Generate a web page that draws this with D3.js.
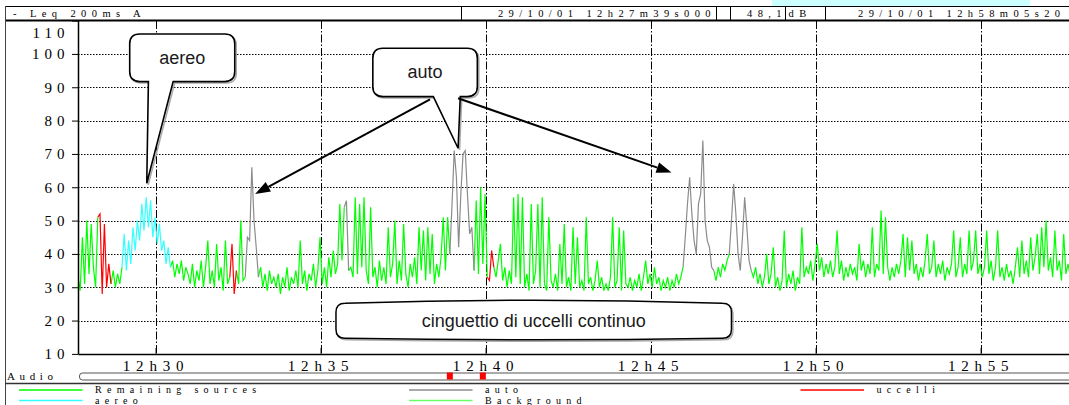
<!DOCTYPE html>
<html><head><meta charset="utf-8">
<script src="https://cdn.jsdelivr.net/npm/d3@7"></script>
<style>
body{margin:0;background:#fff;}
svg{display:block;}
</style></head><body>
<svg id="chart" width="1069" height="405"></svg>
<script>
// ---------- data ----------
const startTime = "12:27:39";
const endTime = "12:58:05";
const stepSeconds = 4;
const leq = [
 33,29,45,31,50,34,49,36,30,51,
 52,28,49,30,37,31,35,30,34,31,
 36,46,35,44,37,48,41,50,44,55,
 47,57,48,56,45,51,43,49,41,44,
 37,42,36,38,33,37,34,38,32,36,
 34,31,37,30,35,32,38,30,36,44,
 31,35,30,43,32,36,29,44,31,33,
 43,28,35,31,50,32,33,45,44,66,
 50,42,33,36,30,34,29,35,31,33,
 30,34,28,33,30,36,29,33,31,35,
 30,44,31,35,29,34,32,37,30,35,
 45,31,36,30,39,33,41,34,37,55,
 38,54,56,35,36,33,57,34,55,36,
 57,35,31,54,33,36,30,38,32,36,
 31,48,33,37,50,31,38,32,49,34,
 30,37,33,39,31,48,35,47,32,48,
 34,46,31,37,33,39,51,35,51,40,
 55,71,63,42,58,70,71,58,46,48,
 35,56,34,60,37,58,33,32,41,36,
 33,38,43,32,36,30,35,31,57,33,
 58,31,57,30,34,29,55,31,35,55,
 30,57,31,29,51,32,30,34,29,43,
 31,49,30,33,29,48,31,45,30,32,
 29,51,31,33,29,32,38,30,33,29,
 31,29,33,51,30,32,48,29,47,31,
 30,33,29,32,30,34,29,33,38,31,
 34,30,36,31,33,29,32,30,33,29,
 32,30,34,31,33,36,45,55,63,52,
 44,40,55,58,74,50,44,42,36,35,
 32,36,33,37,35,38,40,50,61,52,
 40,35,45,57,48,38,35,33,36,31,
 34,30,33,40,31,34,42,30,33,29,
 32,47,30,34,31,35,29,33,31,48,
 33,36,34,38,32,37,43,35,39,33,
 37,34,38,33,36,47,34,38,32,36,
 33,37,34,36,32,43,35,38,33,37,
 34,48,33,37,35,53,34,51,36,32,
 36,33,37,34,38,46,33,45,35,44,
 34,37,32,36,33,38,46,34,36,44,
 33,37,34,38,32,36,34,37,47,33,
 36,45,33,37,34,47,35,38,47,34,
 37,33,36,47,34,38,32,36,47,33,
 36,32,37,33,35,31,36,42,33,44,
 34,38,33,45,35,39,46,34,48,36,
 50,35,39,33,47,35,38,32,46,34,
 37,33,36,34,38,33,36
];
const aereoSpans = [["12:28:59","12:30:27"]];
const autoSpans = [["12:32:43","12:33:07"],["12:35:43","12:35:51"],["12:38:55","12:39:39"],["12:45:59","12:46:55"],["12:47:23","12:48:03"]];
const uccelliSpans = [["12:28:15","12:28:39"],["12:32:15","12:32:27"],["12:40:03","12:40:15"]];
const audioMarks = ["12:38:55","12:39:55"];
const yTicks = [10,20,30,40,50,60,70,80,90,100,110];
const xTickTimes = ["12:30:00","12:35:00","12:40:00","12:45:00","12:50:00","12:55:00"];
const xTickLabels = ["12h30","12h35","12h40","12h45","12h50","12h55"];
const legendNames = ["Remaining sources","auto","uccelli","aereo","Background"];
const headerLabel = "- Leq 200ms A";
const headerStart = "29/10/01 12h27m39s000";
const headerValue = "48,1";
const headerUnit = "dB";
const headerEnd = "29/10/01 12h58m05s20";

// annotations anchored in data units (time, dB)
const callouts = [
  {text:"aereo", t0:"12:29:13", t1:"12:32:24", top:106, bottom:91.7, tail:["12:29:47","12:30:32"], tip:["12:29:44",61.2]},
  {text:"auto", t0:"12:36:35", t1:"12:39:45", top:101.7, bottom:87.2, tail:["12:38:25","12:39:14"], tip:["12:39:10",71.7]}
];
const arrows = [
  {from:["12:38:19",86.4], to:["12:33:01",58]},
  {from:["12:39:10",86.7], to:["12:45:38",64.4]}
];
const noteBox = {text:"cinguettio di uccelli continuo", t0:"12:35:28", t1:"12:47:27", top:25.2, bottom:14.7};

// ---------- styles ----------
const colors = {"Remaining sources":"#00ff00","auto":"#8c8c8c","uccelli":"#ff0000","aereo":"#33ffff","Background":"#66ff66"};
const serif = "'Liberation Serif','Times New Roman',serif";
const sans = "'Liberation Sans',Arial,sans-serif";

// ---------- drawing ----------
const svg = d3.select("#chart");
const W = 1069;
const parse = d3.timeParse("%H:%M:%S");
const tStart = parse(startTime), tEnd = parse(endTime);
const x = d3.scaleTime().domain([tStart, tEnd]).range([78, 1082.4]);
const y = d3.scaleLinear().domain([10,110]).range([353.9, 20.6]);
const data = leq.map((v,i)=>({t:new Date(+tStart + i*stepSeconds*1000), v}));

// title strip remnant
svg.append("rect").attr("x",772).attr("y",0).attr("width",258).attr("height",6).attr("fill","#ccffff");

// header
const hdr = svg.append("g");
hdr.append("line").attr("x1",5).attr("x2",W).attr("y1",6.5).attr("y2",6.5).attr("stroke","#000").attr("stroke-width",1);
hdr.append("line").attr("x1",5).attr("x2",W).attr("y1",20.5).attr("y2",20.5).attr("stroke","#000").attr("stroke-width",2);
[461,716,730,785,825].forEach(dx=>{
  hdr.append("line").attr("x1",dx+0.5).attr("x2",dx+0.5).attr("y1",6.5).attr("y2",20).attr("stroke","#000").attr("stroke-width",1);
});
const hText = (txt, xx, anchor) => hdr.append("text").attr("x",xx).attr("y",17).attr("text-anchor",anchor)
  .attr("font-family",serif).attr("font-size",10.5).attr("letter-spacing",5.4).attr("fill","#000").text(txt);
hText(headerLabel, 13, "start");
hText(headerStart, 716, "end");
hText(headerValue, 787, "end");
hText(headerUnit, 788.5, "start");
hText(headerEnd, 858, "start");

// left outer border
svg.append("line").attr("x1",5.5).attr("x2",5.5).attr("y1",6).attr("y2",405).attr("stroke","#444").attr("stroke-width",1);

// gridlines
const grid = svg.append("g");
yTicks.filter(v=>v>10 && v<110).forEach(v=>{
  grid.append("line").attr("x1",78).attr("x2",W).attr("y1",Math.round(y(v))+0.5).attr("y2",Math.round(y(v))+0.5)
    .attr("stroke","#000").attr("stroke-width",1).attr("stroke-dasharray","1.5,1.5");
});
xTickTimes.forEach(t=>{
  const xx = Math.round(x(parse(t)))+0.5;
  grid.append("line").attr("x1",xx).attr("x2",xx).attr("y1",21).attr("y2",353)
    .attr("stroke","#000").attr("stroke-width",1).attr("stroke-dasharray","8,2,1.5,2");
});

// series
svg.append("clipPath").attr("id","plotclip").append("rect").attr("x",78).attr("y",21).attr("width",W-78).attr("height",333);
const plot = svg.append("g").attr("clip-path","url(#plotclip)");
const allSpans = aereoSpans.concat(autoSpans, uccelliSpans).map(([a,b])=>[parse(a),parse(b)]);
const inside = d => allSpans.some(([a,b]) => d.t>a && d.t<b);
const line = d3.line().x(d=>x(d.t)).y(d=>y(d.v));
const greenLine = d3.line().defined(d=>!inside(d)).x(d=>x(d.t)).y(d=>y(d.v));
plot.append("path").datum(data).attr("d",greenLine).attr("fill","none").attr("stroke",colors["Remaining sources"]).attr("stroke-width",1.2);
const drawSpans = (spans, color) => spans.forEach(([a,b])=>{
  const ta = parse(a), tb = parse(b);
  const seg = data.filter(d=>d.t>=ta && d.t<=tb);
  plot.append("path").datum(seg).attr("d",line).attr("fill","none").attr("stroke",color).attr("stroke-width",1.2);
});
drawSpans(aereoSpans, colors["aereo"]);
drawSpans(autoSpans, colors["auto"]);
drawSpans(uccelliSpans, colors["uccelli"]);

// axes
const yAxis = svg.append("g").attr("transform","translate(78,0)")
  .call(d3.axisLeft(y).tickValues(yTicks).tickSize(6).tickSizeOuter(0).tickFormat(d=>d));
yAxis.select(".domain").attr("stroke","#000").attr("stroke-width",1.5);
yAxis.selectAll(".tick line").attr("stroke","#000");
yAxis.selectAll(".tick text").attr("x",-8.5).attr("font-family",serif).attr("font-size",15).attr("letter-spacing",5).attr("fill","#000");
yAxis.selectAll(".tick").filter(d=>d===110).select("text").attr("dy","1.1em");

const xAxis = svg.append("g").attr("transform",`translate(0,${y(10)})`)
  .call(d3.axisBottom(x).tickValues(xTickTimes.map(parse)).tickSize(-6).tickSizeOuter(0).tickFormat((d,i)=>xTickLabels[i]));
xAxis.select(".domain").attr("stroke","#000").attr("stroke-width",1.5);
xAxis.selectAll(".tick line").attr("stroke","#000");
xAxis.selectAll(".tick text").attr("y",17.5).attr("dy",0).attr("font-family",serif).attr("font-size",15).attr("letter-spacing",5.8).attr("fill","#000");

// audio strip
svg.append("text").attr("x",7).attr("y",380).attr("font-family",serif).attr("font-size",11).attr("letter-spacing",4.6).text("Audio");
svg.append("rect").attr("x",79.5).attr("y",373).attr("width",1000).attr("height",7).attr("rx",3).attr("fill","#fff").attr("stroke","#555").attr("stroke-width",1);
audioMarks.forEach(t=>{
  svg.append("rect").attr("x",x(parse(t))-3).attr("y",372.5).attr("width",6).attr("height",7).attr("fill","#ff0000");
});
svg.append("line").attr("x1",5).attr("x2",W).attr("y1",383.5).attr("y2",383.5).attr("stroke","#333").attr("stroke-width",1.5);

// legend
const legPos = [[19,390],[409,390],[800.5,390],[19,400.5],[409,400.5]];
legendNames.forEach((n,i)=>{
  const [lx,ly] = legPos[i];
  svg.append("line").attr("x1",lx).attr("x2",lx+63.5).attr("y1",ly).attr("y2",ly).attr("stroke",colors[n]).attr("stroke-width",1.5);
  svg.append("text").attr("x",lx+76).attr("y",ly+3.2).attr("font-family",serif).attr("font-size",10).attr("letter-spacing",5.3).attr("fill","#000").text(n);
});

// annotations
const P = (t,v)=>[x(parse(t)), y(v)];
const ann = svg.append("g");
callouts.forEach(c=>{
  const L = x(parse(c.t0)), R = x(parse(c.t1)), T = y(c.top), B = y(c.bottom);
  const tl = x(parse(c.tail[0])), tr = x(parse(c.tail[1]));
  const [tx,ty] = P(c.tip[0], c.tip[1]);
  const r = 10;
  const d = `M${L+r},${T} H${R-r} Q${R},${T} ${R},${T+r} V${B-r} Q${R},${B} ${R-r},${B} H${tr} L${tx},${ty} L${tl},${B} H${L+r} Q${L},${B} ${L},${B-r} V${T+r} Q${L},${T} ${L+r},${T} Z`;
  ann.append("path").attr("d",d).attr("transform","translate(1.5,1.5)").attr("fill","none").attr("stroke","#aaa").attr("stroke-width",1.5);
  ann.append("path").attr("d",d).attr("fill","#fff").attr("stroke","#000").attr("stroke-width",1.6);
  ann.append("text").attr("x",(L+R)/2).attr("y",(T+B)/2+6).attr("text-anchor","middle")
    .attr("font-family",sans).attr("font-size",18).attr("fill","#1a1a1a").text(c.text);
});
arrows.forEach(a=>{
  const [x1,y1] = P(a.from[0],a.from[1]);
  const [x2,y2] = P(a.to[0],a.to[1]);
  const ang = Math.atan2(y2-y1, x2-x1);
  const len = 15, hw = 5.5;
  const bx = x2 - len*Math.cos(ang), by = y2 - len*Math.sin(ang);
  ann.append("line").attr("x1",x1).attr("y1",y1).attr("x2",bx).attr("y2",by).attr("stroke","#000").attr("stroke-width",2);
  ann.append("path").attr("d",`M${x2},${y2} L${bx - hw*Math.sin(ang)},${by + hw*Math.cos(ang)} L${bx + hw*Math.sin(ang)},${by - hw*Math.cos(ang)} Z`).attr("fill","#000");
});
{
  const L = x(parse(noteBox.t0)), R = x(parse(noteBox.t1)), T = y(noteBox.top), B = y(noteBox.bottom);
  const r = 9, mid = (L+R)/2;
  const d = `M${L+r},${T} Q${mid},${T-6} ${R-r},${T} Q${R},${T} ${R},${T+r} V${B-r} Q${R},${B} ${R-r},${B} Q${mid},${B+3} ${L+r},${B} Q${L},${B} ${L},${B-r} V${T+r} Q${L},${T} ${L+r},${T} Z`;
  ann.append("path").attr("d",d).attr("transform","translate(1.5,1.5)").attr("fill","none").attr("stroke","#aaa").attr("stroke-width",1.5);
  ann.append("path").attr("d",d).attr("fill","#fff").attr("stroke","#000").attr("stroke-width",1.5);
  ann.append("text").attr("x",mid).attr("y",(T+B)/2+6).attr("text-anchor","middle")
    .attr("font-family",sans).attr("font-size",18).attr("fill","#1a1a1a").text(noteBox.text);
}
</script>
</body></html>
